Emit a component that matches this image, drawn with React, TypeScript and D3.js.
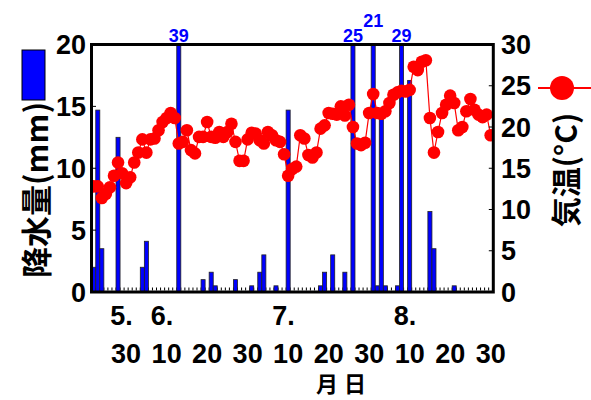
import React from "react";
import * as d3 from "d3";

// daily values, day 0 .. day 98
const precip = [
  2.0, 14.7, 3.5, 0, 0, 0, 12.5, 0, 0, 0,
  0, 0, 2.0, 4.1, 0, 0, 0, 0, 0, 0,
  0, 39, 0, 0, 0, 0, 0, 1.0, 0, 1.6,
  0.5, 0, 0, 0, 0, 1.0, 0, 0, 0, 0.5,
  0, 1.6, 3.0, 0, 0, 0.5, 0, 0, 14.7, 0,
  0, 0, 0, 0, 0, 0, 0.5, 1.6, 0, 3.0,
  0, 0, 1.6, 0, 25, 0, 0, 0, 0, 21,
  0.5, 14.3, 0.5, 0, 0, 0.5, 29, 0, 17.1, 0,
  0, 0, 0, 6.5, 3.5, 0, 0, 0, 0, 0.5,
  0, 0, 0, 0, 0, 0, 0, 0, 0,
];

const temp = [
  12.8, 12.8, 11.4, 11.9, 12.7, 14.1, 15.7, 14.4, 13.2, 13.9,
  15.7, 16.9, 18.5, 16.9, 18.5, 18.6, 19.6, 20.6, 21.1, 21.7,
  21.1, 18.0, 18.2, 19.6, 17.2, 16.8, 18.8, 18.8, 20.6, 18.8,
  18.7, 19.4, 18.8, 19.4, 20.4, 18.2, 15.9, 15.9, 18.5, 19.3,
  19.2, 18.4, 18.0, 19.4, 19.0, 18.4, 18.2, 16.7, 14.1, 14.9,
  15.2, 19.0, 18.6, 16.6, 16.3, 16.9, 19.8, 20.2, 21.7, 21.6,
  21.5, 22.5, 21.4, 22.7, 20.0, 18.0, 17.8, 18.1, 21.7, 24.0,
  21.7, 21.6, 21.9, 22.9, 23.9, 24.2, 24.4, 24.3, 24.5, 27.3,
  26.9, 27.9, 28.1, 21.1, 16.9, 19.4, 21.7, 22.7, 23.8, 22.9,
  19.6, 20.0, 21.9, 23.4, 22.1, 21.5, 21.2, 21.5, 19.0,
];

const dayTicks = [8, 18, 28, 38, 48, 58, 68, 78, 88, 98];
const dayLabels = ["30", "10", "20", "30", "10", "20", "30", "10", "20", "30"];
const monthTicks = [8, 18, 48, 78];
const monthLabels = ["5.", "6.", "7.", "8."];
const precipTicks = [0, 5, 10, 15, 20];
const tempTicks = [0, 5, 10, 15, 20, 25, 30];

const W = 591;
const H = 400;
const L = 91.5, R = 493.3, T = 44.5, B = 292;

const numFont = "'Liberation Sans', Arial, sans-serif";
const cjkFont = "'Noto Sans CJK JP', sans-serif";

export default function App() {
  const x = d3.scaleLinear().domain([-0.55, 98.65]).range([L, R]);
  const yP = d3.scaleLinear().domain([0, 20]).range([B, T]);
  const yT = d3.scaleLinear().domain([0, 30]).range([B, T]);
  const bw = x(1) - x(0);

  const line = d3.line<number>()
    .x((_, i) => x(i))
    .y((d) => yT(d));

  // labels for bars running off the top, staggered when close together
  const over: { i: number; v: number; up: boolean }[] = [];
  precip.forEach((v, i) => {
    if (v > 20) {
      const prev = over[over.length - 1];
      const up = !!prev && !prev.up && x(i) - x(prev.i) < 25;
      over.push({ i, v, up });
    }
  });

  return (
    <svg width={W} height={H} style={{ position: "absolute", left: 0, top: 0, background: "#fff" }}>
      <defs>
        <clipPath id="plot">
          <rect x={L} y={T} width={R - L} height={B - T} />
        </clipPath>
      </defs>

      {/* daily minor ticks */}
      {d3.range(-1, 99).map((i) => (
        <line key={"mt" + i} x1={x(i + 0.5)} x2={x(i + 0.5)} y1={B - 1.5} y2={B - 4.5} stroke="#000" strokeWidth={1} />
      ))}

      <g clipPath="url(#plot)">
        {precip.map((v, i) =>
          v > 0 ? (
            <rect key={"b" + i} x={x(i) - bw / 2} y={yP(Math.min(v, 21))} width={bw}
              height={B - yP(Math.min(v, 21))} fill="#0000ff" stroke="#222" strokeWidth={0.8} />
          ) : null
        )}
        <path d={line(temp) || ""} fill="none" stroke="#ff0000" strokeWidth={1.2} />
        {temp.map((v, i) => (
          <circle key={"c" + i} cx={x(i)} cy={yT(v)} r={6.3} fill="#ff0000" />
        ))}
      </g>

      {/* y ticks inward */}
      {precipTicks.slice(1, -1).map((v) => (
        <line key={"lt" + v} x1={L} x2={L + 4.5} y1={yP(v)} y2={yP(v)} stroke="#000" strokeWidth={1} />
      ))}
      {tempTicks.slice(1, -1).map((v) => (
        <line key={"rt" + v} x1={R} x2={R - 4.5} y1={yT(v)} y2={yT(v)} stroke="#000" strokeWidth={1} />
      ))}

      <rect x={L} y={T} width={R - L} height={B - T} fill="none" stroke="#000" strokeWidth={3} />

      {over.map((o) => (
        <text key={"o" + o.i} x={x(o.i)} y={o.up ? 27 : 41.5} textAnchor="middle" fill="#0000ff"
          fontFamily={numFont} fontWeight="bold" fontSize={18}>{o.v}</text>
      ))}

      {precipTicks.map((v) => (
        <text key={"pl" + v} x={86} y={yP(v)} dy="0.36em" textAnchor="end"
          fontFamily={numFont} fontWeight="bold" fontSize={27}>{v}</text>
      ))}
      {tempTicks.map((v) => (
        <text key={"tl" + v} x={501} y={yT(v)} dy="0.36em" textAnchor="start"
          fontFamily={numFont} fontWeight="bold" fontSize={27}>{v}</text>
      ))}

      {monthTicks.map((d, k) => (
        <text key={"m" + d} x={x(d) - 16} y={325} textAnchor="start"
          fontFamily={numFont} fontWeight="bold" fontSize={27}>{monthLabels[k]}</text>
      ))}
      {dayTicks.map((d, k) => (
        <text key={"d" + k} x={x(d)} y={363} textAnchor="middle"
          fontFamily={numFont} fontWeight="bold" fontSize={27}>{dayLabels[k]}</text>
      ))}
      <text x={344} y={392} textAnchor="middle" fontFamily={cjkFont} fontWeight="bold" fontSize={22}
        letterSpacing={6}>月日</text>

      {/* left legend + title */}
      <rect x={22} y={50} width={23} height={50} fill="#0000ff" stroke="#000" strokeWidth={1} />
      <text transform="translate(37,190) rotate(-90)" textAnchor="middle" dy="0.36em"
        fontFamily={cjkFont} fontWeight="bold" fontSize={31}>降水量(mm)</text>

      {/* right legend + title */}
      <line x1={538} x2={591} y1={88} y2={88} stroke="#ff0000" strokeWidth={2} />
      <circle cx={562} cy={88} r={12} fill="#ff0000" />
      <text transform="translate(566,170) rotate(-90)" textAnchor="middle" dy="0.36em"
        fontFamily={cjkFont} fontWeight="bold" fontSize={30}>気温(°C)</text>
    </svg>
  );
}
